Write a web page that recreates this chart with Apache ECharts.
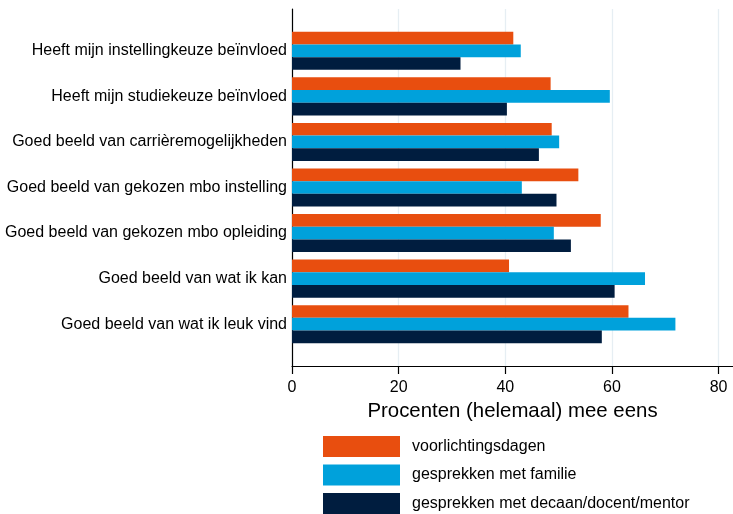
<!DOCTYPE html>
<html><head><meta charset="utf-8">
<script src="https://cdn.jsdelivr.net/npm/echarts@6/dist/echarts.min.js"></script>
<style>html,body{margin:0;padding:0;background:#fff}#c{width:733px;height:514px}</style>
</head><body><div id="c"></div>
<script>
const categories = [
  "Heeft mijn instellingkeuze beïnvloed",
  "Heeft mijn studiekeuze beïnvloed",
  "Goed beeld van carrièremogelijkheden",
  "Goed beeld van gekozen mbo instelling",
  "Goed beeld van gekozen mbo opleiding",
  "Goed beeld van wat ik kan",
  "Goed beeld van wat ik leuk vind"
];
const seriesNames = ["voorlichtingsdagen", "gesprekken met familie", "gesprekken met decaan/docent/mentor"];
const voorlichtingsdagen = [41.5, 48.5, 48.7, 53.7, 57.9, 40.7, 63.1];
const familie = [42.9, 59.6, 50.1, 43.1, 49.1, 66.2, 71.9];
const decaan = [31.6, 40.3, 46.3, 49.6, 52.3, 60.5, 58.1];
const xTicks = [0, 20, 40, 60, 80];
const xMax = 82.7;
const axisTitle = "Procenten (helemaal) mee eens";
const colors = ["#E84E0F", "#00A1DB", "#001D3F"];

const font = "Liberation Sans, Arial, Helvetica, sans-serif";
const chart = echarts.init(document.getElementById('c'), null, {renderer: 'canvas'});
const values = [voorlichtingsdagen, familie, decaan];
chart.setOption({
  animation: false,
  color: colors,
  textStyle: {fontFamily: font},
  grid: [
    {left: 292, right: 0, top: 28, bottom: 167},
    {left: 292, right: 0, top: 9, bottom: 148}
  ],
  xAxis: [
    {gridIndex: 0, type: 'value', min: 0, max: xMax, interval: 20, show: false},
    {gridIndex: 1, type: 'value', min: 0, max: xMax, interval: 20,
     axisLine: {show: true, lineStyle: {color: '#000', width: 1.2}},
     axisTick: {show: true, length: 8, customValues: xTicks, lineStyle: {color: '#000', width: 1.2}},
     axisLabel: {color: '#000', fontSize: 16, margin: 14, fontFamily: font, customValues: xTicks,
       formatter: v => String(v)},
     splitLine: {show: true, lineStyle: {color: '#e6eef3', width: 1.3}},
     name: axisTitle, nameLocation: 'middle', nameGap: 33,
     nameTextStyle: {color: '#000', fontSize: 20.4, fontFamily: font}}
  ],
  yAxis: [
    {gridIndex: 0, type: 'category', data: categories, inverse: true,
     axisLine: {show: false}, axisTick: {show: false},
     axisLabel: {color: '#000', fontSize: 16, margin: 5, fontFamily: font}},
    {gridIndex: 1, type: 'value', min: 0, max: 1,
     axisLine: {show: true, lineStyle: {color: '#000', width: 1.2}},
     axisTick: {show: false}, axisLabel: {show: false}, splitLine: {show: false}}
  ],
  legend: {
    orient: 'vertical', left: 323, top: 436, height: 90, padding: 0,
    itemWidth: 77, itemHeight: 21, itemGap: 7.5,
    icon: 'rect', data: seriesNames,
    textStyle: {color: '#000', fontSize: 16, fontFamily: font, padding: [0, 0, 0, 7]}
  },
  series: seriesNames.map((n, i) => ({
    name: n, type: 'bar', xAxisIndex: 0, yAxisIndex: 0, data: values[i],
    barGap: '0%', barCategoryGap: '16.5%',
    itemStyle: {color: colors[i]}
  }))
});
</script></body></html>
